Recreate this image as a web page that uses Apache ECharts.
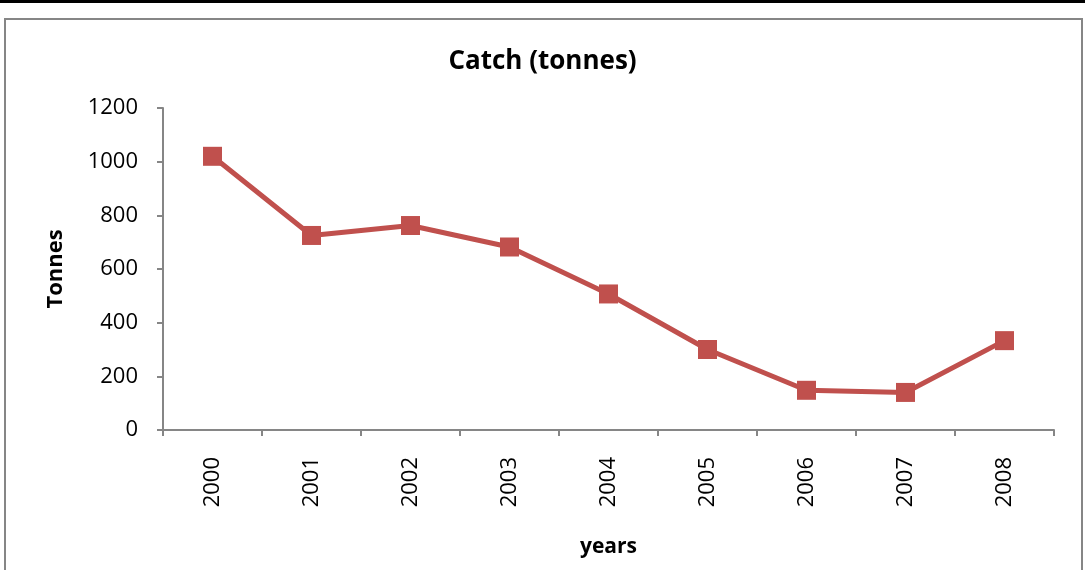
<!DOCTYPE html>
<html>
<head>
<meta charset="utf-8">
<script src="https://cdn.jsdelivr.net/npm/echarts@6/dist/echarts.min.js"></script>
<style>
html,body{margin:0;padding:0;background:#fff;}
#chart{width:1085px;height:570px;}
</style>
</head>
<body>
<div id="chart"></div>
<script>
const categories = ['2000','2001','2002','2003','2004','2005','2006','2007','2008'];
const catchValues = [1020, 725, 762, 682, 507, 300, 148, 140, 333];
const yTicks = [0, 200, 400, 600, 800, 1000, 1200];

const chart = echarts.init(document.getElementById('chart'));
const font = '"Open Sans", "Liberation Sans", sans-serif';
chart.setOption({
  animation: false,
  backgroundColor: '#fff',
  graphic: [
    {type:'rect', shape:{x:0,y:0,width:1085,height:3}, style:{fill:'#000'}},
    {type:'rect', shape:{x:5,y:19,width:1077,height:560}, style:{fill:'none',stroke:'#868686',lineWidth:2}}
  ],
  title: {
    text: 'Catch (tonnes)',
    left: 'center',
    top: 44,
    textStyle: {fontFamily: font, fontSize: 26, fontWeight: 'bold', color: '#000'}
  },
  grid: {left: 163, right: 31, top: 108, bottom: 140, containLabel: false},
  xAxis: {
    type: 'category',
    data: categories,
    boundaryGap: true,
    name: 'years',
    nameLocation: 'middle',
    nameGap: 107,
    nameTextStyle: {fontFamily: font, fontSize: 21, fontWeight: 'bold', color: '#000'},
    axisLine: {lineStyle: {color: '#868686', width: 2}},
    axisTick: {show: true, length: 6, alignWithLabel: false, lineStyle: {color: '#868686', width: 2}},
    axisLabel: {rotate: 90, margin: 27, fontFamily: font, fontSize: 22, color: '#000'}
  },
  yAxis: {
    type: 'value',
    min: 0, max: 1200, interval: 200,
    name: 'Tonnes',
    nameLocation: 'middle',
    nameGap: 96,
    nameRotate: 90,
    nameTextStyle: {fontFamily: font, fontSize: 22, fontWeight: 'bold', color: '#000'},
    axisLine: {show: true, lineStyle: {color: '#868686', width: 2}},
    axisTick: {show: true, length: 6, lineStyle: {color: '#868686', width: 2}},
    splitLine: {show: false},
    axisLabel: {margin: 25, fontFamily: font, fontSize: 22, color: '#000',
      formatter: function(v){ return yTicks.indexOf(v) >= 0 ? String(v) : ''; }}
  },
  series: [{
    type: 'line',
    data: catchValues,
    symbol: 'rect',
    symbolSize: 19,
    lineStyle: {color: '#C0504D', width: 5},
    itemStyle: {color: '#C0504D'}
  }]
});
</script>
</body>
</html>
